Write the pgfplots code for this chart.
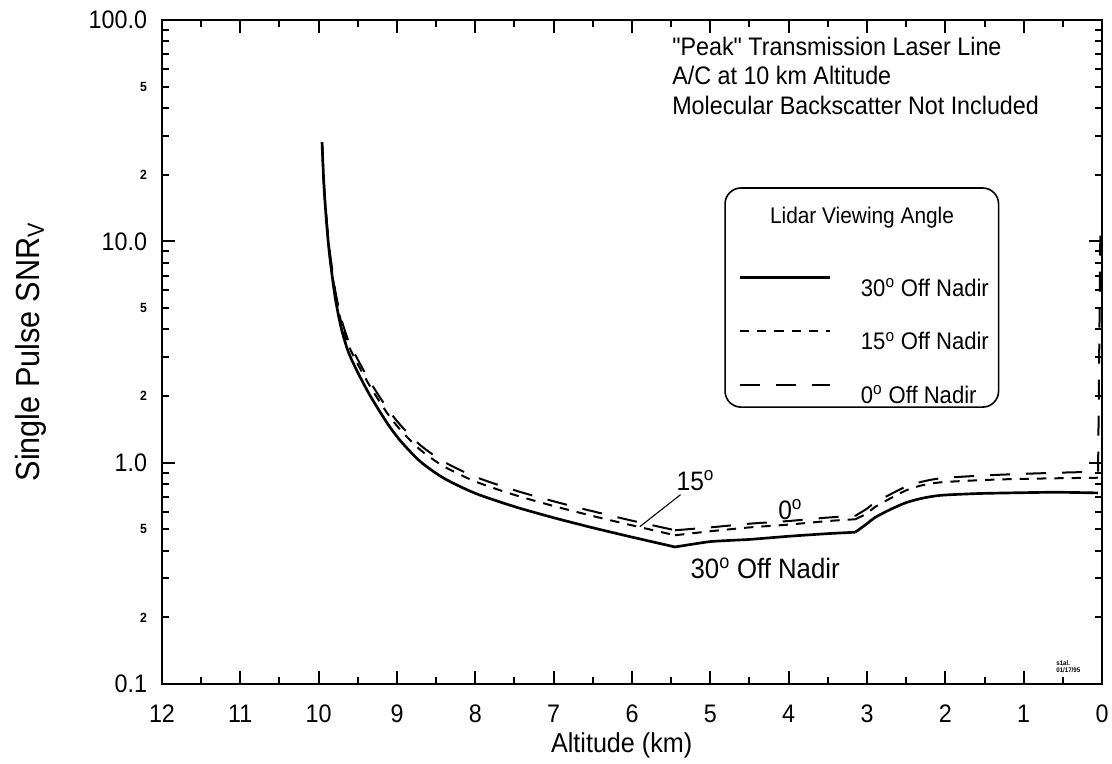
\documentclass[border=0pt]{standalone}
\usepackage{pgfplots}
\pgfplotsset{compat=1.18}
\usepackage{fontspec}
\setmainfont{Liberation Sans}[FakeStretch=0.92, Ligatures=TeXOff]

% columns: altitude, 30 deg, 15 deg, 0 deg
\pgfplotstableread[row sep=\\]{
x a b c\\
9.957 28 28 28\\
9.931 17.5 17.76 17.9\\
9.894 11.5 11.8 12.0\\
9.856 8.4 8.69 8.9\\
9.79 5.6 5.85 6.05\\
9.715 4.1 4.35 4.52\\
9.626 3.2 3.44 3.6\\
9.511 2.6 2.83 2.97\\
9.34 2.0 2.2 2.31\\
9.12 1.50 1.665 1.75\\
8.95 1.248 1.398 1.47\\
8.70 1.01 1.141 1.198\\
8.40 0.85 0.961 1.009\\
8.00 0.727 0.822 0.863\\
7.50 0.633 0.715 0.751\\
7.00 0.564 0.637 0.669\\
6.50 0.508 0.574 0.603\\
6.00 0.461 0.521 0.547\\
5.45 0.416 0.47 0.495\\
}\partA

\pgfplotstableread[row sep=\\]{
x a b c\\
5.45 0.416 0.47 0.495\\
5.0 0.44 0.49 0.51\\
4.5 0.45 0.51 0.53\\
4.0 0.465 0.525 0.545\\
3.5 0.478 0.545 0.565\\
3.15 0.485 0.555 0.575\\
}\partB

\pgfplotstableread[row sep=\\]{
x a b c\\
3.15 0.485 0.555 0.575\\
3.0 0.53 0.59 0.62\\
2.9 0.565 0.63 0.66\\
2.7 0.615 0.69 0.72\\
2.5 0.66 0.75 0.78\\
2.3 0.69 0.79 0.82\\
2.06 0.712 0.815 0.85\\
1.6 0.725 0.832 0.872\\
1.2 0.73 0.842 0.885\\
0.6 0.735 0.85 0.90\\
0.05 0.73 0.855 0.91\\
}\partC

\pgfplotstableread[row sep=\\]{
x c\\
0.05 0.91\\
0.02 12\\
}\spike

\begin{document}
\begin{tikzpicture}
\useasboundingbox (-121.5pt,-59.25pt) rectangle (712.5pt,513pt);
\begin{axis}[
  at={(0pt,0pt)}, anchor=south west,
  scale only axis, width=705pt, height=498pt,
  x dir=reverse, xmin=0, xmax=12,
  ymode=log, ymin=0.1, ymax=100,
  xtick={0,1,...,12}, xticklabels={0,1,2,3,4,5,6,7,8,9,10,11,12},
  minor x tick num=1,
  ytick={0.1,1,10,100}, yticklabels={0.1,1.0,10.0,100.0},
  minor ytick={0.2,0.3,0.4,0.5,0.6,0.7,0.8,0.9,2,3,4,5,6,7,8,9,20,30,40,50,60,70,80,90},
  extra y ticks={0.2,0.5,2,5,20,50},
  extra y tick labels={2,5,2,5,2,5},
  extra y tick style={yticklabel style={font=\fontsize{10}{12}\selectfont\bfseries}, major tick length=5.5pt},
  tick align=inside,
  major tick length=9.5pt, minor tick length=5.5pt,
  axis line style={line width=2pt},
  every tick/.style={black, line width=1.5pt},
  ticklabel style={font=\fontsize{19}{22}\selectfont},
  yticklabel style={anchor=east, inner sep=0pt, xshift=-11pt},
  xticklabel style={anchor=north, inner sep=0pt, yshift=-15.75pt},
  /pgf/number format/assume math mode=true,
  label style={font=\fontsize{20.5}{24}\selectfont},
  xlabel={Altitude (km)},
  ylabel={Single Pulse SNR\textsubscript{V}},
  xlabel style={at={(axis description cs:0.489,-0.092)}, anchor=center},
  ylabel style={at={(axis description cs:-0.140,0.5)}, anchor=center, font=\fontsize{25}{29}\selectfont},
  legend cell align=left,
  legend style={at={(axis description cs:0.6128,0.6145)}, anchor=north west, draw=none, fill=none,
    font=\fontsize{18}{21}\selectfont, row sep=22pt, column sep=22.5pt, inner sep=0pt, nodes={inner sep=0pt}},
  legend image code/.code={\path (0pt,-8.25pt) (67.5pt,8.25pt); \draw[#1] (0pt,8.25pt) -- (67.5pt,8.25pt);},
]
\addplot[black, line width=2pt, smooth, tension=0.45] table[x=x,y=a] {\partA};
\addplot[black, line width=1.5pt, dash pattern=on 7pt off 6pt, smooth, tension=0.45] table[x=x,y=b] {\partA};
\addplot[black, line width=1.5pt, dash pattern=on 15pt off 12pt, smooth, tension=0.45] table[x=x,y=c] {\partA};
\legend{30\textsuperscript{o} Off Nadir, 15\textsuperscript{o} Off Nadir, 0\textsuperscript{o} Off Nadir}

\addplot[black, line width=2pt, smooth, tension=0.3, forget plot] table[x=x,y=a] {\partB};
\addplot[black, line width=1.5pt, dash pattern=on 7pt off 6pt, smooth, tension=0.3, forget plot] table[x=x,y=b] {\partB};
\addplot[black, line width=1.5pt, dash pattern=on 15pt off 12pt, smooth, tension=0.3, forget plot] table[x=x,y=c] {\partB};

\addplot[black, line width=2pt, smooth, tension=0.45, forget plot] table[x=x,y=a] {\partC};
\addplot[black, line width=1.5pt, dash pattern=on 7pt off 6pt, smooth, tension=0.45, forget plot] table[x=x,y=b] {\partC};
\addplot[black, line width=1.5pt, dash pattern=on 15pt off 12pt, smooth, tension=0.45, forget plot] table[x=x,y=c] {\partC};
\addplot[black, line width=1.5pt, dash pattern=on 15pt off 12pt, forget plot] table[x=x,y=c] {\spike};

\draw[line width=1.2pt, rounded corners=12pt] (axis description cs:0.599,0.747) rectangle (axis description cs:0.890,0.417);
\node[font=\fontsize{17}{20}\selectfont] at (axis description cs:0.7447,0.703) {Lidar Viewing Angle};
\node[anchor=north west, align=left, inner sep=0pt, font=\fontsize{19}{22.1}\selectfont] at (axis description cs:0.5426,0.975) {"Peak" Transmission Laser Line\\A/C at 10 km Altitude\\Molecular Backscatter Not Included};
\node[font=\fontsize{20}{24}\selectfont] at (axis cs:5.19,0.829) {15\textsuperscript{o}};
\draw[line width=0.8pt] (axis cs:5.38,0.717) -- (axis cs:5.9,0.514);
\node[font=\fontsize{20}{24}\selectfont] at (axis cs:3.98,0.613) {0\textsuperscript{o}};
\node[font=\fontsize{21}{25}\selectfont] at (axis cs:4.30,0.332) {30\textsuperscript{o} Off Nadir};
\node[font=\fontsize{5}{5.5}\selectfont\bfseries, align=left] at (axis cs:0.43,0.12) {s1al.\\01/17/95};
\end{axis}
\end{tikzpicture}
\end{document}
